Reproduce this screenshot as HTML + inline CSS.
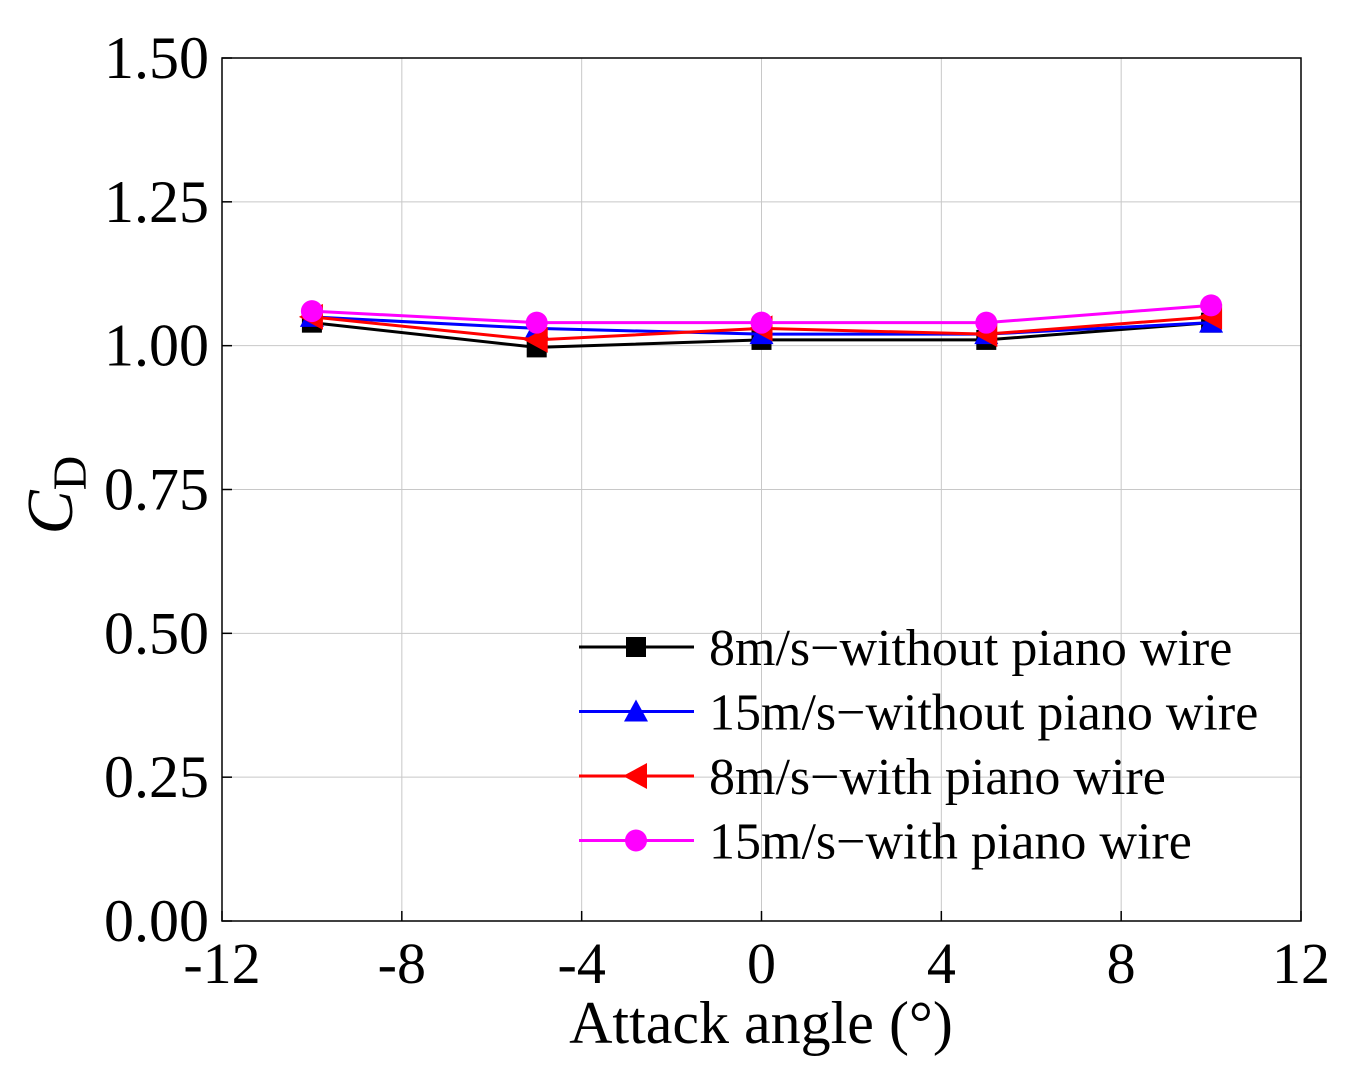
<!DOCTYPE html>
<html><head><meta charset="utf-8"><style>
html,body{margin:0;padding:0;background:#fff;}
svg text{font-family:"Liberation Serif",serif;fill:#000;}
</style></head><body>
<svg id="chart" width="1368" height="1075" viewBox="0 0 1368 1075">
<g id="grid"></g>
<rect x="222" y="58" width="1079" height="863" fill="none" stroke="#000" stroke-width="1.5"/>
<g id="ticks"></g>
<g id="series"></g>
<text x="761" y="1043" font-size="60" text-anchor="middle">Attack angle (°)</text>
<text transform="translate(72,495) rotate(-90)" font-size="66" text-anchor="middle"><tspan font-style="italic">C</tspan><tspan font-size="48" dy="14">D</tspan></text>
<g id="legend"></g>
</svg>
<script>
const xTicks=[-12,-8,-4,0,4,8,12];
const yTicks=[0,0.25,0.5,0.75,1.0,1.25,1.5];
const angles=[-10,-5,0,5,10];
const s8NoWire=[1.04,0.997,1.01,1.01,1.04];
const s15NoWire=[1.05,1.03,1.02,1.02,1.04];
const s8Wire=[1.05,1.01,1.03,1.02,1.05];
const s15Wire=[1.06,1.04,1.04,1.04,1.07];
const seriesNames=["8m/s−without piano wire","15m/s−without piano wire","8m/s−with piano wire","15m/s−with piano wire"];
const X=v=>222+(v+12)/24*1079;
const Y=v=>921-v/1.5*863;
const NS="http://www.w3.org/2000/svg";
function mk(tag,attrs,parent){const e=document.createElementNS(NS,tag);for(const k in attrs)e.setAttribute(k,attrs[k]);parent.appendChild(e);return e;}
const grid=document.getElementById('grid'),ticks=document.getElementById('ticks');
xTicks.forEach(t=>{
 const l=mk('line',{x1:X(t),x2:X(t),y1:58,y2:921,stroke:'#c8c8c8','stroke-width':1},grid);
 
 
 const tk=mk('line',{x1:X(t),x2:X(t),y1:921,y2:911,stroke:'#000','stroke-width':1.5},ticks);
 
 
 const tx=mk('text',{x:X(t),y:983,'font-size':58,'text-anchor':'middle'},ticks);tx.textContent=t;
 
 
});
yTicks.forEach(t=>{
 const l=mk('line',{x1:222,x2:1301,y1:Y(t),y2:Y(t),stroke:'#c8c8c8','stroke-width':1},grid);
 
 
 const tk=mk('line',{x1:222,x2:232,y1:Y(t),y2:Y(t),stroke:'#000','stroke-width':1.5},ticks);
 
 
 const tx=mk('text',{x:209,y:Y(t)+20,'font-size':60,'text-anchor':'end'},ticks);tx.textContent=t.toFixed(2);
 
 
});
function marker(type,x,y,color,parent){
 let e;
 if(type==='sq')e=mk('rect',{x:x-10,y:y-10,width:20,height:20,fill:color},parent);
 else if(type==='up')e=mk('polygon',{points:`${x},${y-12} ${x-12},${y+10} ${x+12},${y+10}`,fill:color},parent);
 else if(type==='left')e=mk('polygon',{points:`${x-13},${y} ${x+11},${y-13} ${x+11},${y+13}`,fill:color},parent);
 else e=mk('circle',{cx:x,cy:y,r:11,fill:color},parent);
 
 
}
const allData=[s8NoWire,s15NoWire,s8Wire,s15Wire];
const colors=['#000','#0000ff','#ff0000','#ff00ff'];
const mtypes=['sq','up','left','circ'];
const sg=document.getElementById('series'),lg=document.getElementById('legend');
allData.forEach((d,i)=>{
 const g=mk('g',{},sg);
 
 
 const pl=mk('polyline',{points:d.map((v,j)=>X(angles[j])+','+Y(v)).join(' '),fill:'none',stroke:colors[i],'stroke-width':3},g);
 
 
 d.forEach((v,j)=>marker(mtypes[i],X(angles[j]),Y(v),colors[i],g));
 const ly=647+i*64.5;
 const le=mk('g',{},lg);
 
 
 mk('line',{x1:579,x2:694,y1:ly,y2:ly,stroke:colors[i],'stroke-width':3},le);
 marker(mtypes[i],636,ly,colors[i],le);
 const t=mk('text',{x:709,y:ly+18,'font-size':52},le);t.textContent=seriesNames[i];
 
 
});
</script>
</body></html>
